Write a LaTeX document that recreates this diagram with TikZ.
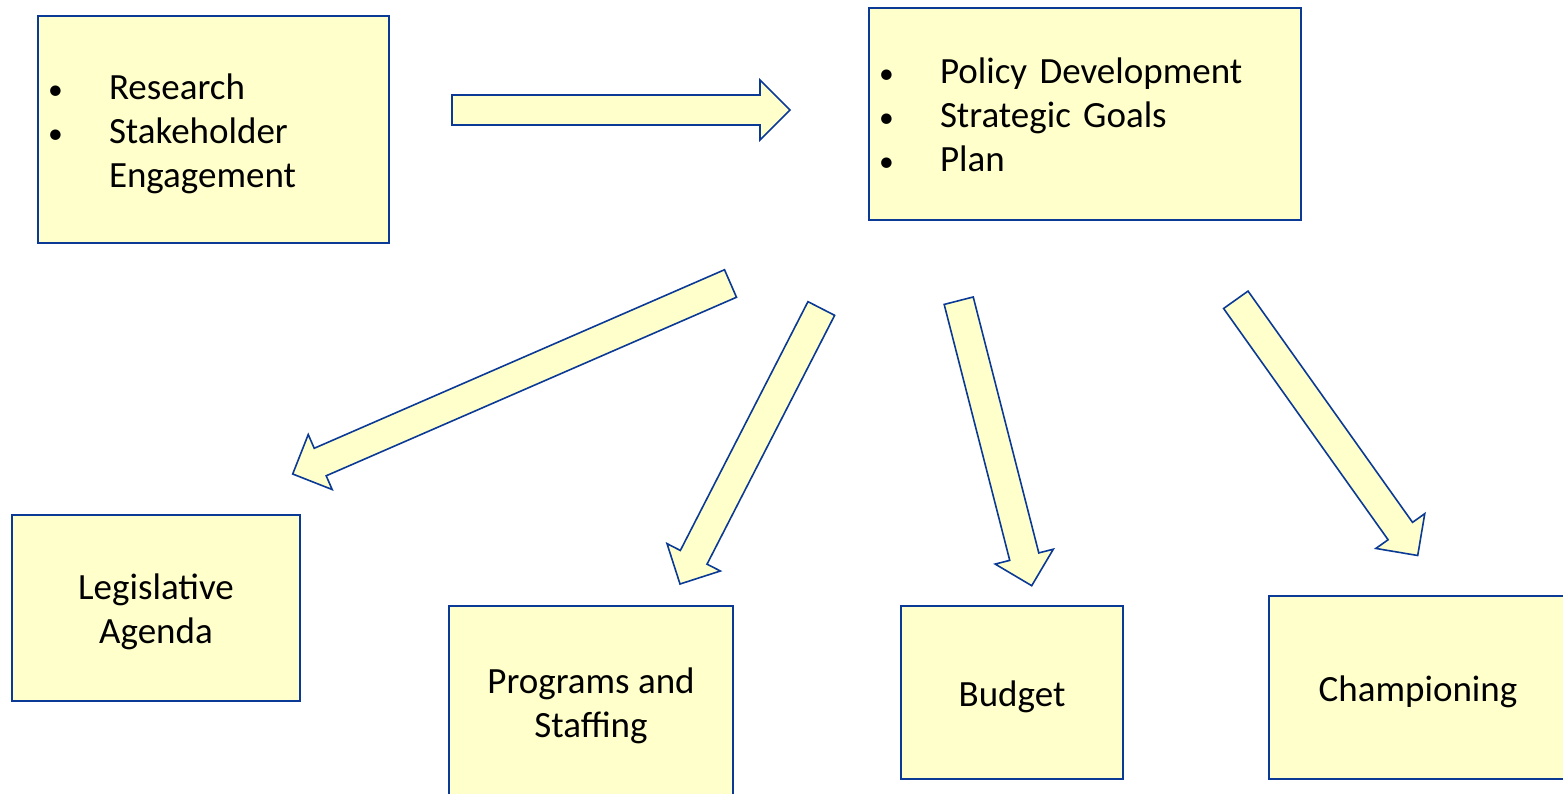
\documentclass[tikz,border=0pt]{standalone}
\usepackage{fontspec}
\setmainfont{Carlito}
\usetikzlibrary{calc}

\definecolor{boxfill}{HTML}{FFFFCC}
\definecolor{boxline}{HTML}{0B3A96}

\tikzset{
  box/.style={draw=boxline, fill=boxfill, line width=1.6pt, rectangle,
    inner sep=0pt, font=\fontsize{37}{44}\selectfont},
  listbox/.style={box, align=left, inner xsep=10pt},
  arrowbody/.style={draw=boxline, fill=boxfill, line width=1.6pt, line join=miter},
}

%% lower a line a little inside its box
\newcommand{\dn}[2][4pt]{\raisebox{-#1}[\height][\depth]{#2}}
\newcommand{\bul}{\makebox[61pt][l]{\scalebox{0.8}{\textbullet}}}
%% block arrow: tail centre #1, tip #2
\newcommand{\blockarrow}[2]{%
  \coordinate (hb) at ($(#2)!30pt!(#1)$);
  \draw[arrowbody] ($(#1)!15pt!90:(#2)$) -- ($(hb)!15pt!90:(#2)$)
    -- ($(hb)!30pt!90:(#2)$) -- (#2) -- ($(hb)!30pt!-90:(#2)$)
    -- ($(hb)!15pt!-90:(#2)$) -- ($(#1)!15pt!-90:(#2)$) -- cycle;
}

\begin{document}
\begin{tikzpicture}[x=1pt, y=-1pt]

  \useasboundingbox (0,0) rectangle (1563,794);
  \clip (0,0) rectangle (1563,794);

  %%-- TOP ROW --%%
  \node[listbox, minimum width=351pt, minimum height=227pt, text width=331pt]
    (research) at (213.5,129.5)
    {\dn{\bul Research}\\ \dn{\bul Stakeholder}\\ \dn{\hspace*{61pt}Engagement}};
  \node[listbox, minimum width=432pt, minimum height=212pt, text width=412pt]
    (policy) at (1085,114)
    {\dn[1pt]{\bul Policy Development}\\ \dn[1pt]{\bul Strategic Goals}\\ \dn[1pt]{\bul Plan}};

  %%-- BOTTOM ROW --%%
  \node[box, align=center, minimum width=288pt, minimum height=186pt]
    (legis) at (156,608) {\dn{Legislative}\\ \dn{Agenda}};
  \node[box, align=center, minimum width=284pt, minimum height=192pt]
    (programs) at (591,702) {\dn{Programs and}\\ \dn{Staffing}};
  \node[box, minimum width=222pt, minimum height=173pt]
    (budget) at (1012,692.5) {\dn{Budget}};
  \node[box, minimum width=298pt, minimum height=183pt]
    (champ) at (1418,687.5) {\dn{Championing}};

  %%-- ARROW ENDS --%%
  \coordinate (resTail)   at (452,110);
  \coordinate (polTip)    at (790,110);
  \coordinate (legTail)   at (730.5,283.5);
  \coordinate (legTip)    at (292.7,474);
  \coordinate (progTail)  at (821.3,308.5);
  \coordinate (progTip)   at (680,584);
  \coordinate (budTail)   at (958.7,300.7);
  \coordinate (budTip)    at (1031.7,585.7);
  \coordinate (champTail) at (1235.8,299.8);
  \coordinate (champTip)  at (1417.7,555.5);

  %%-- BLOCK ARROWS --%%
  \blockarrow{resTail}{polTip}
  \blockarrow{legTail}{legTip}
  \blockarrow{progTail}{progTip}
  \blockarrow{budTail}{budTip}
  \blockarrow{champTail}{champTip}

\end{tikzpicture}
\end{document}
